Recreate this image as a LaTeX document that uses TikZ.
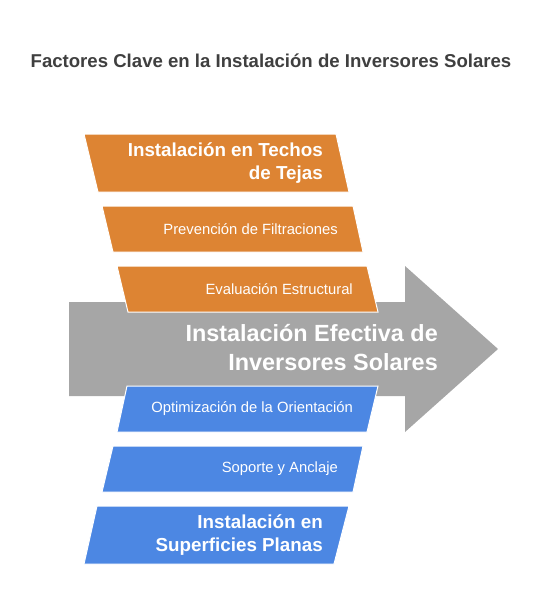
\documentclass[tikz,border=0pt]{standalone}
\usepackage{fontspec}
\setmainfont{Liberation Sans}
\definecolor{slabOrange}{HTML}{DD8433}
\definecolor{slabBlue}{HTML}{4C87E3}
\definecolor{arrowGray}{HTML}{A6A6A6}
\definecolor{titleGray}{HTML}{3F3F3F}

\begin{document}
\begin{tikzpicture}[x=1pt,y=-1pt,
  slab/.style={draw=white,line width=1pt},
  bigtext/.style={text=white,font=\fontsize{18.8}{23}\selectfont\bfseries,align=right,anchor=east,inner sep=0pt},
  smalltext/.style={text=white,font=\fontsize{14.8}{17}\selectfont,anchor=east,inner sep=0pt}]
\useasboundingbox (0,0) rectangle (542,615);
\def\mid{349}
  %\draw[help lines] (0,0) grid[step=50] (542,615);
\node[font=\fontsize{18.6}{22}\selectfont\bfseries,text=titleGray] (title) at (271,61) {Factores Clave en la Instalación de Inversores Solares};

% main arrow
\fill[arrowGray] (69,302) -- (405,302) -- (405,266) -- (498,\mid) -- (405,432) -- (405,396) -- (69,396) -- cycle;

\begin{scope}[every path/.style={slab}]
\filldraw[fill=slabOrange] (84,134) -- (336,134) -- (349,192) -- (98,192) -- cycle;
\filldraw[fill=slabOrange] (102,206) -- (353,206) -- (363,252) -- (113,252) -- cycle;
\filldraw[fill=slabOrange] (117,266) -- (367,266) -- (378,312) -- (128,312) -- cycle;
\filldraw[fill=slabBlue] (127,386) -- (378,386) -- (367,432) -- (117,432) -- cycle;
\filldraw[fill=slabBlue] (113,446) -- (363,446) -- (353,492) -- (102,492) -- cycle;
\filldraw[fill=slabBlue] (97,506) -- (349,506) -- (334,564) -- (84,564) -- cycle;
\end{scope}

\path
(323,163) node [bigtext] (techos) {Instalación en Techos\\de Tejas}
(338,229) node [smalltext] (filtra) {Prevención de Filtraciones}
(353,289) node [smalltext] (evalua) {Evaluación Estructural}
(438,348) node [bigtext,font=\fontsize{23.4}{29}\selectfont\bfseries] (efectiva) {Instalación Efectiva de\\Inversores Solares}
(353,409) node [smalltext] (orienta) {Optimización de la Orientación}
(338,469) node [smalltext] (soporte) {Soporte y Anclaje}
(323,535) node [bigtext] (planas) {Instalación en\\Superficies Planas}
;
\end{tikzpicture}
\end{document}
